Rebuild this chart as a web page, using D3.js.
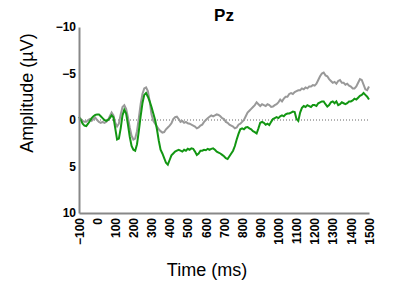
<!DOCTYPE html>
<html>
<head>
<meta charset="utf-8">
<script src="https://cdn.jsdelivr.net/npm/d3@7"></script>
<style>
  body { margin: 0; background: #fff; }
  text { font-family: Arial, "Liberation Sans", sans-serif; }
</style>
</head>
<body>
<div class="chart"></div>
<script>
// time axis: -100 .. 1500 ms in 10 ms steps
const tStart = -100, tStep = 10;
const xTicks = [-100, 0, 100, 200, 300, 400, 500, 600, 700, 800, 900, 1000, 1100, 1200, 1300, 1400, 1500];
const yTicks = [-10, -5, 0, 5, 10];

const grayVals = [
  0.0, -0.1, 0.1, 0.2, 0.2, 0.0, -0.1, 0.1, -0.1, -0.25,
  0.0, 0.2, 0.3, 0.2, 0.3, 0.2, 0.0, -0.4, -0.8, -0.5,
  0.3, 0.7, 0.4, -0.6, -1.4, -1.6, -1.2, -0.3, 0.8, 1.7,
  2.1, 2.0, 1.2, -0.2, -1.7, -2.8, -3.4, -3.5, -3.1, -2.0,
  -0.6, 0.1, 0.4, 0.7, 1.0, 1.2, 1.35, 1.3, 1.0, 0.8,
  0.6, 0.35, -0.1, -0.3, -0.35, -0.1, 0.2, 0.1, 0.3, 0.2,
  0.35, 0.4, 0.5, 0.6, 0.7, 0.9, 0.8, 0.6, 0.5, 0.2,
  0.0, -0.2, -0.35, -0.5, -0.4, -0.5, -0.6, -0.55, -0.4, -0.2,
  -0.1, 0.2, 0.3, 0.5, 0.6, 0.7, 0.9, 0.8, 0.5, 0.4,
  0.2, 0.0, -0.4, -0.8, -1.0, -1.2, -1.4, -1.6, -1.9, -1.7,
  -1.5, -1.7, -1.6, -1.5, -1.7, -1.6, -1.4, -1.45, -1.6, -1.7,
  -1.9, -2.2, -2.0, -2.3, -2.5, -2.5, -2.8, -2.9, -2.8, -3.0,
  -3.1, -3.2, -3.2, -3.4, -3.3, -3.5, -3.4, -3.6, -3.6, -3.75,
  -3.7, -3.9, -4.3, -4.7, -5.0, -5.1, -4.8, -4.7, -4.4, -4.2,
  -4.0, -4.1, -3.9, -4.2, -4.3, -4.0, -4.0, -3.8, -3.9, -3.7,
  -3.6, -3.4, -3.4, -3.6, -4.0, -4.4, -4.3, -3.8, -3.3, -3.2,
  -3.6
];

const greenVals = [
  -0.35, 0.0, 0.4, 0.6, 0.65, 0.4, 0.1, -0.2, -0.4, -0.55,
  -0.6, -0.6, -0.4, -0.2, 0.0, 0.1, 0.0, -0.2, -0.5, -0.3,
  0.9, 2.1, 2.0, 0.9, -0.5, -1.1, -0.7, 0.5, 1.8, 2.8,
  3.2, 3.3, 2.6, 1.2, -0.4, -1.8, -2.7, -2.9, -2.5, -2.0,
  -1.4, -0.7, 0.0, 1.0, 2.2, 3.2, 3.6, 4.1, 4.6, 4.8,
  4.3, 3.8, 3.6, 3.4, 3.3, 3.2, 3.3, 3.4, 3.2, 3.3,
  3.1, 3.2, 3.05, 3.1, 3.4, 3.75, 3.6, 3.3, 3.3, 3.2,
  3.25, 3.1, 3.2, 3.1, 3.05, 3.2, 3.4, 3.5, 3.6, 3.75,
  3.9, 4.1, 4.2, 3.9, 3.6, 3.3, 2.8, 2.1, 1.5, 1.0,
  0.9, 1.0, 0.8, 0.75, 0.9, 1.0, 1.2, 1.3, 1.45, 0.9,
  0.3, 0.2, 0.3, 0.5, 0.4, 0.55, 0.2, -0.1, -0.2, -0.3,
  -0.2, -0.4, -0.5, -0.4, -0.6, -0.7, -0.7, -0.8, -0.9, -0.85,
  -0.1, 0.1, -0.8, -1.3, -1.5, -1.4, -1.6, -1.5, -1.4, -1.6,
  -1.6, -1.5, -1.8, -1.9, -2.0, -2.0, -1.7, -1.45, -1.6, -1.9,
  -2.0, -1.8, -2.0, -1.6, -1.7, -1.9, -1.8, -1.7, -1.8, -2.0,
  -2.0, -2.1, -2.3, -2.2, -2.4, -2.6, -2.7, -2.9, -2.7, -2.5,
  -2.2
];

const margin = {top: 27, right: 24, bottom: 72, left: 79};
const width = 393 - margin.left - margin.right;
const height = 285 - margin.top - margin.bottom;

const root = d3.select('.chart')
  .append('svg')
    .attr('width', 393)
    .attr('height', 285);

const svg = root.append('g')
  .attr('transform', `translate(${margin.left}, ${margin.top})`);

const xScale = d3.scaleLinear()
  .domain([-100, 1500])
  .range([0, width]);

const yScale = d3.scaleLinear()
  .domain([-10, 10])
  .range([0, height]);

// dotted zero line
svg.append('line')
  .attr('x1', 0).attr('x2', width)
  .attr('y1', yScale(0)).attr('y2', yScale(0))
  .style('stroke', '#666')
  .style('stroke-width', 1)
  .style('stroke-dasharray', '1,2');

const line = d3.line()
  .x((d, i) => xScale(tStart + i * tStep))
  .y(d => yScale(d));

svg.append('path')
  .datum(grayVals)
  .attr('d', line)
  .style('fill', 'none')
  .style('stroke', '#999999')
  .style('stroke-width', 2);

svg.append('path')
  .datum(greenVals)
  .attr('d', line)
  .style('fill', 'none')
  .style('stroke', '#129612')
  .style('stroke-width', 2);

const yAxis = d3.axisLeft(yScale)
  .tickValues(yTicks)
  .tickFormat(d3.format('d'))
  .tickSize(0)
  .tickPadding(3);
const gy = svg.append('g').call(yAxis);

const xAxis = d3.axisBottom(xScale)
  .tickValues(xTicks)
  .tickFormat(d3.format('d'))
  .tickSize(0)
  .tickPadding(0);
const gx = svg.append('g')
  .attr('transform', `translate(0, ${height})`)
  .call(xAxis);

[gx, gy].forEach(g => {
  g.select('.domain').style('stroke', '#888').style('stroke-width', 2);
  g.selectAll('text')
    .style('font-family', 'Arial, "Liberation Sans", sans-serif')
    .style('font-size', '12px')
    .style('font-weight', 'bold')
    .style('fill', '#000');
});

gx.selectAll('text')
  .attr('transform', 'rotate(-90)')
  .attr('x', -5)
  .attr('y', 0)
  .attr('dy', '0.35em')
  .style('text-anchor', 'end');

root.append('text')
  .attr('x', margin.left + width / 2)
  .attr('y', 21)
  .attr('text-anchor', 'middle')
  .style('font-size', '17px')
  .style('font-weight', 'bold')
  .text('Pz');

root.append('text')
  .attr('x', 207)
  .attr('y', 276)
  .attr('text-anchor', 'middle')
  .style('font-size', '18px')
  .text('Time (ms)');

root.append('text')
  .attr('transform', 'translate(33, 93) rotate(-90)')
  .attr('text-anchor', 'middle')
  .style('font-size', '18px')
  .text('Amplitude (\u00b5V)');
</script>
</body>
</html>
